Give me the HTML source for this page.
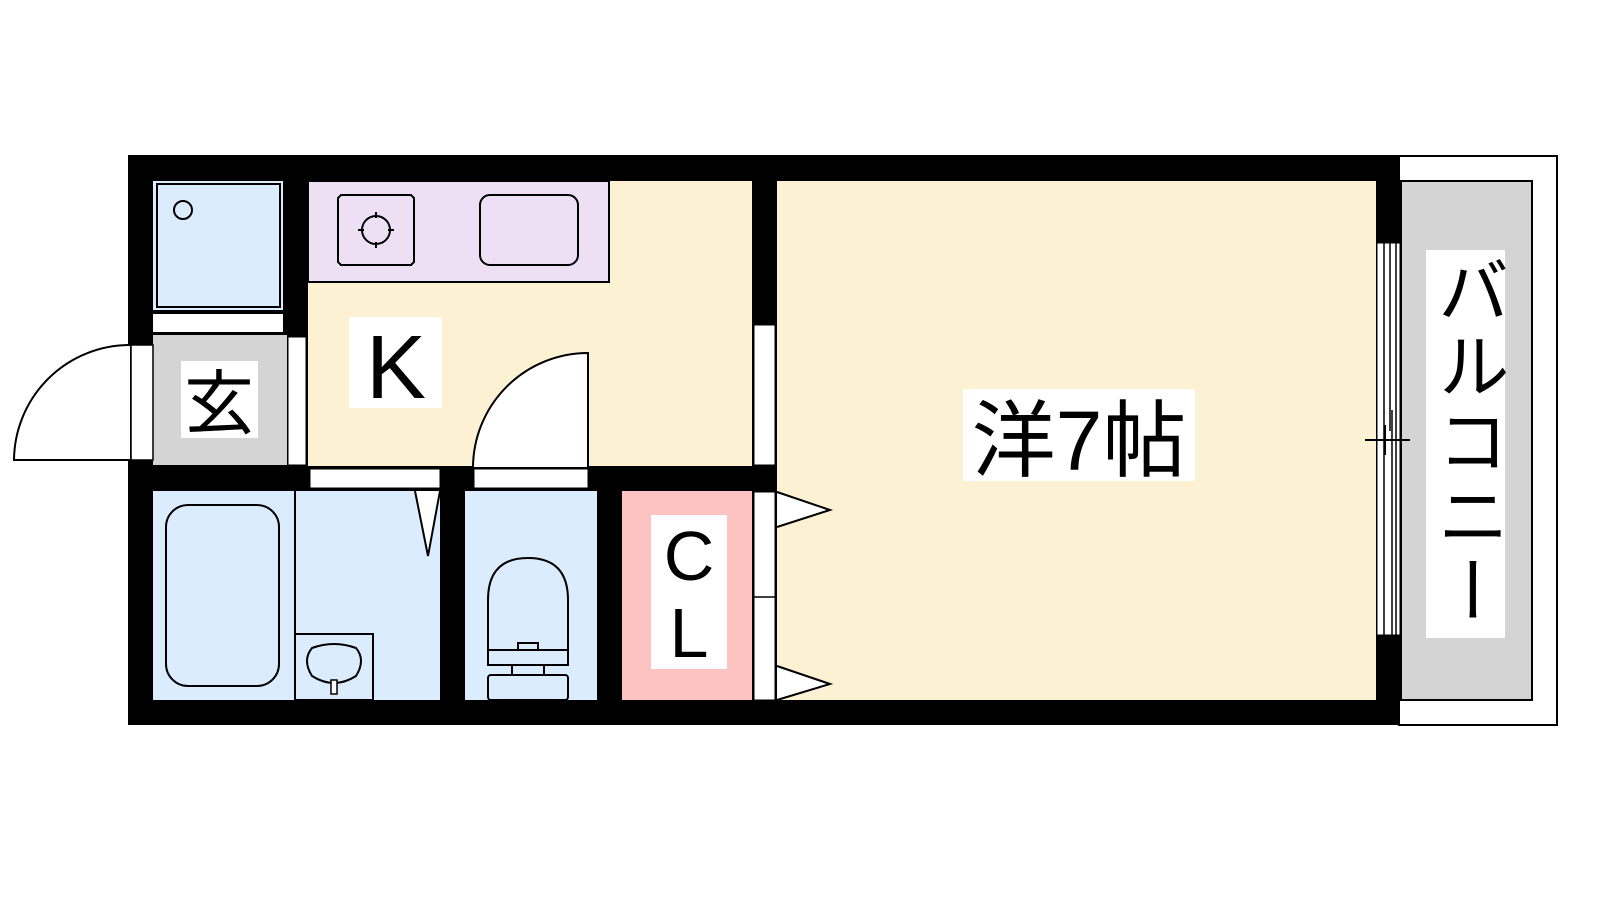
<!DOCTYPE html>
<html><head><meta charset="utf-8"><style>
html,body{margin:0;padding:0;background:#fff;}
svg{display:block}
text{font-family:"Liberation Sans","Noto Sans CJK JP",sans-serif;}
</style></head><body>
<svg width="1600" height="900" viewBox="0 0 1600 900" xmlns="http://www.w3.org/2000/svg">
<!-- balcony -->
<rect x="1398" y="156" width="1159" height="569" fill="none"/>
<path d="M1398 156 H1557 V725 H1398" fill="#fff" stroke="#000" stroke-width="2"/>
<rect x="1401" y="181" width="131" height="519" fill="#d4d4d4" stroke="#000" stroke-width="2"/>
<rect x="1426" y="250" width="79" height="388" fill="#fff"/>
<text x="1466" y="254" font-size="72" style="writing-mode:vertical-rl;letter-spacing:3px" text-anchor="start">バルコニー</text>
<!-- outer walls -->
<rect x="128" y="155" width="1272" height="570" fill="#000"/>
<!-- rooms -->
<rect x="153" y="181" width="1223" height="519" fill="#000"/>
<rect x="777" y="181" width="599" height="519" fill="#fdf1d3"/>
<rect x="308" y="181" width="444" height="285" fill="#fdf1d3"/>
<rect x="308" y="181" width="301" height="101" fill="#ede0f5" stroke="#000" stroke-width="2"/>
<rect x="153" y="181" width="130" height="129" fill="#dbecff"/>
<rect x="157" y="184" width="123" height="123" fill="none" stroke="#000" stroke-width="2"/>
<circle cx="183" cy="210" r="9" fill="none" stroke="#000" stroke-width="2"/>
<rect x="153" y="314" width="130" height="18" fill="#fff"/>
<rect x="153" y="335" width="134" height="130" fill="#d4d4d4"/>
<rect x="288" y="337" width="18" height="128" fill="#fff" stroke="#000" stroke-width="1"/>
<rect x="181" y="361" width="77" height="77" fill="#fff"/>
<text x="219" y="428" font-size="70" text-anchor="middle">玄</text>
<!-- entrance door -->
<rect x="131" y="345" width="22" height="115" fill="#fff" stroke="#000" stroke-width="1.5"/>
<path d="M130 345 A116 116 0 0 0 14 460 H130" fill="#fff" stroke="#000" stroke-width="2"/>
<!-- stove & sink -->
<path d="M341 195 H411 L414 198 V262 L411 265 H341 L338 262 V198 Z" fill="none" stroke="#000" stroke-width="2"/>
<circle cx="376" cy="230" r="14" fill="none" stroke="#000" stroke-width="2"/>
<path d="M376 212v6M376 242v6M358 230h6M388 230h6" stroke="#000" stroke-width="2"/>
<rect x="480" y="195" width="98" height="70" rx="10" fill="none" stroke="#000" stroke-width="2"/>
<!-- K -->
<rect x="349" y="317" width="93" height="91" fill="#fff"/>
<text x="396" y="398" font-size="90" text-anchor="middle">K</text>
<!-- kitchen door -->
<path d="M588 353 V468 H473 A115 115 0 0 1 588 353 Z" fill="#fff" stroke="#000" stroke-width="2"/>
<rect x="310" y="469" width="130" height="19" fill="#fff" stroke="#000" stroke-width="1"/>
<rect x="474" y="469" width="114" height="19" fill="#fff" stroke="#000" stroke-width="1"/>
<!-- vertical window between K and room -->
<rect x="754" y="325" width="21" height="140" fill="#fff" stroke="#000" stroke-width="1"/>
<!-- bathroom -->
<rect x="153" y="491" width="287" height="209" fill="#dbecff"/>
<line x1="295" y1="491" x2="295" y2="700" stroke="#000" stroke-width="2"/>
<rect x="166" y="505" width="113" height="181" rx="22" fill="none" stroke="#000" stroke-width="2"/>
<rect x="295" y="634" width="78" height="66" fill="none" stroke="#000" stroke-width="2"/>
<path d="M312 648 Q334 640 356 648 Q366 660 356 676 Q334 690 312 676 Q302 660 312 648 Z" fill="none" stroke="#000" stroke-width="2"/>
<rect x="331" y="680" width="6" height="14" fill="#fff" stroke="#000" stroke-width="1.5"/>
<path d="M415 491 L428 556 L440 491" fill="#fff" stroke="#000" stroke-width="2"/>
<!-- toilet -->
<rect x="465" y="491" width="132" height="209" fill="#dbecff"/>
<path d="M488 650 V600 Q488 558 528 558 Q568 558 568 600 V650 Z" fill="none" stroke="#000" stroke-width="2"/>
<path d="M488 650 H518 V643 H538 V650 H568 V665 H488 Z" fill="none" stroke="#000" stroke-width="2"/>
<path d="M512 665v10M544 665v10" stroke="#000" stroke-width="2"/>
<rect x="488" y="675" width="80" height="25" rx="3" fill="none" stroke="#000" stroke-width="2"/>
<!-- CL -->
<rect x="622" y="491" width="130" height="209" fill="#fdc2c2"/>
<rect x="651" y="515" width="76" height="154" fill="#fff"/>
<text x="689" y="580" font-size="70" text-anchor="middle">C</text>
<text x="689" y="657" font-size="70" text-anchor="middle">L</text>
<rect x="754" y="492" width="21" height="208" fill="#fff" stroke="#000" stroke-width="1"/>
<line x1="754" y1="597" x2="775" y2="597" stroke="#000" stroke-width="1.5"/>
<path d="M777 492 L830 510 L777 527" fill="#fff" stroke="#000" stroke-width="2"/>
<path d="M777 666 L830 684 L777 700" fill="#fff" stroke="#000" stroke-width="2"/>
<!-- 洋7帖 -->
<rect x="963" y="389" width="232" height="92" fill="#fff"/>
<text x="1079" y="470" font-size="84" text-anchor="middle">洋7帖</text>
<!-- right window -->
<rect x="1377" y="243" width="23" height="392" fill="#fff" stroke="#000" stroke-width="1"/>
<path d="M1384 243V635M1390 243V431M1396 243V635M1392 410V635" stroke="#000" stroke-width="1.5"/>
<line x1="1365" y1="440" x2="1410" y2="440" stroke="#000" stroke-width="2"/>
<line x1="1385" y1="425" x2="1385" y2="455" stroke="#000" stroke-width="2"/>
</svg>
</body></html>
